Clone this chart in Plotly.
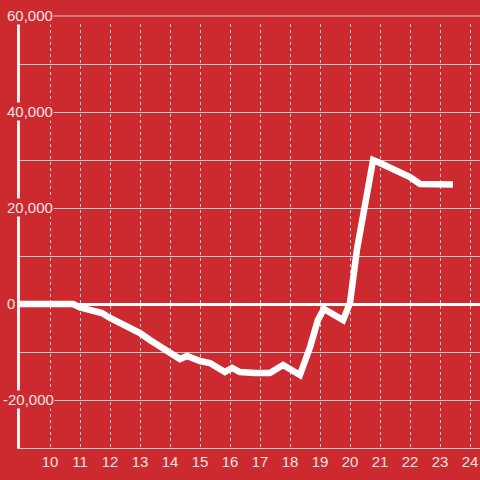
import plotly.graph_objects as go

# data (hour of day, value)
hours = [9.0, 10.77, 11.0, 11.43, 11.73, 12.0, 12.33, 12.67, 13.0, 13.33, 13.67, 14.0,
         14.33, 14.57, 15.0, 15.33, 15.83, 16.07, 16.33, 16.83, 17.33, 17.77, 18.07,
         18.33, 18.67, 18.93, 19.13, 19.77, 20.0, 20.23, 20.5, 20.77, 21.0, 21.43,
         21.67, 22.0, 22.33, 22.67, 23.43]
values = [0, 0, -730, -1600, -1875, -2900, -3960, -5200, -6040, -7500, -8960, -10200,
          -11460, -10830, -11875, -12290, -14170, -13330, -14170, -14375, -14375, -12710, -13750,
          -14790, -8960, -3330, -1040, -3330, 210, 11250, 20625, 30000, 29375, 28125,
          27710, 26460, 25000, 24900, 24900]

x_ticks = list(range(10, 25))
y_ticks = [-20000, 0, 20000, 40000, 60000]

BG = "#cc2a2f"
TXT = "#f2e2e2"
GRID = "#cccccc"

Y_MIN, Y_MAX = -30000, 58333.33
X_MIN, X_MAX = 9, 24.3333

fig = go.Figure()
fig.add_trace(go.Scatter(x=hours, y=values, mode="lines",
                         line=dict(color="white", width=6.5), hoverinfo="skip"))

def ypaper(v):
    return (v - Y_MIN) / (Y_MAX - Y_MIN)

shapes = [dict(type="line", xref="paper", yref="paper", x0=0, x1=1,
               y0=ypaper(60000), y1=ypaper(60000),
               line=dict(color=GRID, width=1), layer="below")]

annotations = []
for v in y_ticks:
    annotations.append(dict(
        xref="paper", yref="paper", x=(-20 + (2 if v < 0 else 5.5)) / 460.0,
        y=ypaper(v), xanchor="left", yanchor="middle",
        text=f"{v:,}", showarrow=False,
        font=dict(family="Liberation Sans, Arial, sans-serif", size=15, color=TXT),
        bgcolor=BG, borderpad=0))

fig.update_layout(
    width=480, height=480,
    margin=dict(l=20, r=0, t=24, b=32, autoexpand=False),
    paper_bgcolor=BG, plot_bgcolor=BG,
    showlegend=False, hovermode=False,
    shapes=shapes, annotations=annotations,
    font=dict(family="Liberation Sans, Arial, sans-serif", size=15, color=TXT),
    xaxis=dict(range=[X_MIN, X_MAX], tickvals=x_ticks, ticktext=[str(t) for t in x_ticks],
               showgrid=True, gridcolor=GRID, gridwidth=1, griddash="dot",
               showline=True, linecolor=GRID, linewidth=1, zeroline=False,
               ticks="", tickfont=dict(size=15, color=TXT), automargin=False),
    yaxis=dict(range=[Y_MIN, Y_MAX], dtick=10000, tick0=0,
               showgrid=True, gridcolor=GRID, gridwidth=1,
               showticklabels=False, ticks="", automargin=False,
               zeroline=True, zerolinecolor="white", zerolinewidth=3,
               showline=True, linecolor="#f0f0f0", linewidth=3),
)

fig.write_html("out.html", config={"displayModeBar": False, "staticPlot": True},
               post_script="document.body.style.margin='0';document.body.style.overflow='hidden';")
